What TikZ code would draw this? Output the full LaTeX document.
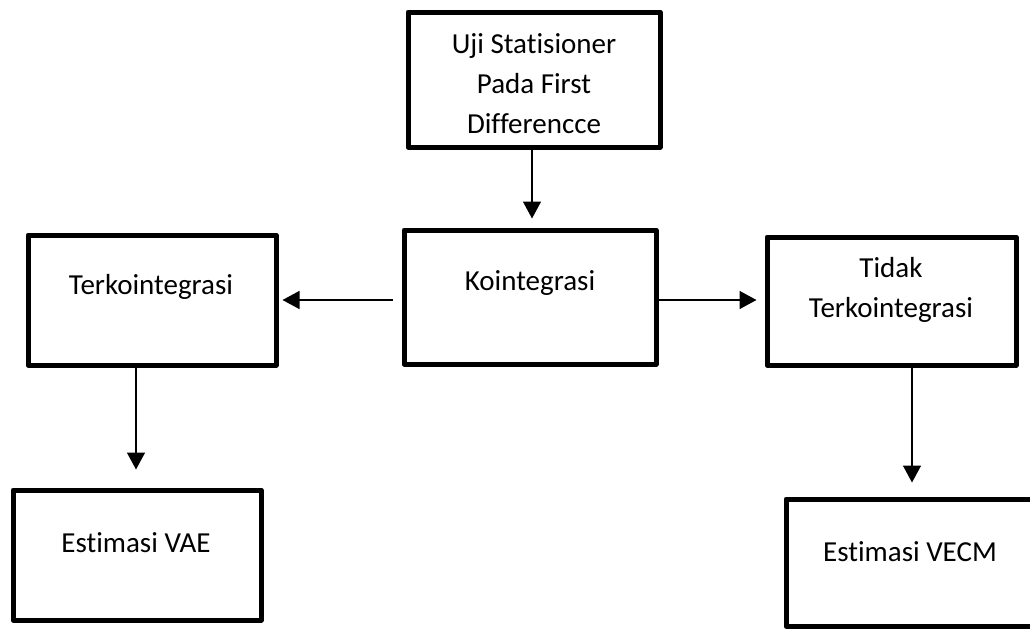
\documentclass[tikz,border=0pt]{standalone}
\usepackage{fontspec}
\setmainfont{Carlito}[Ligatures=NoCommon]
\usetikzlibrary{arrows.meta,calc}
\begin{document}
\begin{tikzpicture}[x=1pt,y=-1pt,
  box/.style={draw=black,line width=5pt,inner sep=0pt,line join=round},
  lbl/.style={font=\fontsize{29}{40}\selectfont,align=center,inner sep=0pt},
  arr/.style={line width=1.5pt,-{Triangle[length=17pt,width=18pt]}}]
\useasboundingbox (0,0) rectangle (1030,632);
% boxes
\node[box,minimum width=252pt,minimum height=135pt] (top) at (534,79.5) {};
\node[box,minimum width=252pt,minimum height=134pt] (koin) at (530,297) {};
\node[box,minimum width=248pt,minimum height=130pt] (terk) at (152,300) {};
\node[box,minimum width=249pt,minimum height=128pt] (tidak) at (891.5,301) {};
\node[box,minimum width=248pt,minimum height=130pt] (vae) at (137,555) {};
\node[box,minimum width=248pt,minimum height=127pt] (vecm) at (910,562.5) {};
% texts
\node[lbl] (ttop) at (534,84) {Uji Statisioner\\Pada First\\Differencce};
\node[lbl] (tkoin) at (530,283) {Kointegrasi};
\node[lbl] (tterk) at (151,287) {Terkointegrasi};
\node[lbl] (ttidak) at (891,290) {Tidak\\Terkointegrasi};
\node[lbl] (tvae) at (136,543) {Estimasi VAE};
\node[lbl] (tvecm) at (910,552) {Estimasi VECM};
% connector end points
\coordinate (s1) at ($(top.south)+(-2,0)$);
\coordinate (e1) at (s1 |- koin.north);
\coordinate (s2) at (koin.west |- terk.east);
\coordinate (s3) at (koin.east |- terk.east);
\coordinate (e3) at (tidak.west |- terk.east);
\coordinate (s4) at ($(terk.south)+(-16,0)$);
\coordinate (e4) at (s4 |- vae.north);
\coordinate (s5) at ($(tidak.south)+(20.5,0)$);
\coordinate (e5) at (s5 |- vecm.north);
% connectors
\draw[arr,shorten >=9pt] (s1) -- (e1);
\draw[arr,shorten <=9pt,shorten >=4pt] (s2) -- (terk.east);
\draw[arr,shorten >=8pt] (s3) -- (e3);
\draw[arr,shorten >=18pt] (s4) -- (e4);
\draw[arr,shorten >=14pt] (s5) -- (e5);
\end{tikzpicture}
\end{document}
